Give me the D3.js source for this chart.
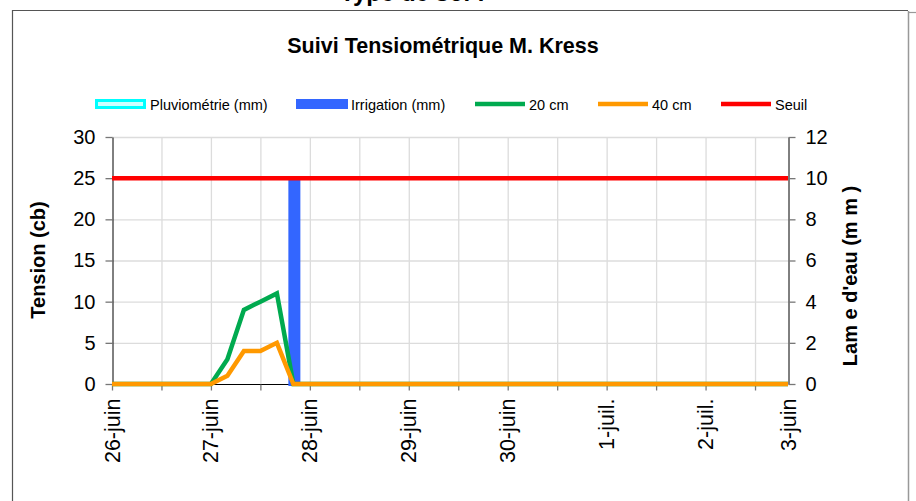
<!DOCTYPE html>
<html>
<head>
<meta charset="utf-8">
<script src="https://cdn.jsdelivr.net/npm/d3@7"></script>
<style>
  body { margin: 0; background: #fff; }
  svg { display: block; font-family: "Liberation Sans", Arial, sans-serif; }
</style>
</head>
<body>
<svg id="chart" width="916" height="501"></svg>
<script>
"use strict";

// readings (every 4 h around the rise), in cb
const times = ["2009-06-26 00:00", "2009-06-27 00:00", "2009-06-27 04:00", "2009-06-27 08:00",
               "2009-06-27 12:00", "2009-06-27 16:00", "2009-06-27 20:00", "2009-07-02 20:00"];
const tension20 = [0, 0, 3, 9, 10, 11, 0, 0];
const tension40 = [0, 0, 1, 4, 4, 5, 0, 0];
const seuil = [25, 25, 25, 25, 25, 25, 25, 25];

// water supplied, in mm (right axis)
const waterTimes = ["2009-06-27 20:00"];
const pluviometrie = [0];
const irrigation = [10];

const xTickDates = ["2009-06-26 00:00", "2009-06-27 00:00", "2009-06-28 00:00", "2009-06-29 00:00",
                    "2009-06-30 00:00", "2009-07-01 00:00", "2009-07-02 00:00", "2009-07-02 20:00"];
const xTickLabels = ["26-juin", "27-juin", "28-juin", "29-juin", "30-juin", "1-juil.", "2-juil.", "3-juin"];
const leftTicks = [0, 5, 10, 15, 20, 25, 30];
const rightTicks = [0, 2, 4, 6, 8, 10, 12];

const parse = d3.timeParse("%Y-%m-%d %H:%M");
const svg = d3.select("#chart");

const plotL = 112, plotR = 788, plotT = 137, plotB = 384;

const x = d3.scaleTime()
   .domain([parse(times[0]), parse(times[times.length - 1])])
   .range([plotL, plotR]);
const y = d3.scaleLinear().domain([0, 30]).range([plotB, plotT]);
const y2 = d3.scaleLinear().domain([0, 12]).range([plotB, plotT]);

// outer frame
svg.append("path").attr("d", "M12.5,501 V10.5 H908").attr("fill", "none").attr("stroke", "#555").attr("stroke-width", 1.2);
svg.append("line").attr("x1", 908.5).attr("x2", 908.5).attr("y1", 11).attr("y2", 501).attr("stroke", "#999").attr("stroke-width", 1.5);
svg.append("line").attr("x1", 909).attr("x2", 916).attr("y1", 12.5).attr("y2", 12.5).attr("stroke", "#999").attr("stroke-width", 1.2);

// cut-off heading at the very top
svg.append("text").attr("x", 340).attr("y", 1).attr("font-size", 24).attr("font-weight", "bold").text("Type de sol :");

svg.append("text")
   .attr("x", 443).attr("y", 53)
   .attr("text-anchor", "middle")
   .attr("font-size", 21.5).attr("font-weight", "bold")
   .text("Suivi Tensiométrique M. Kress");

// grid
const halfDays = d3.timeHour.every(12).range(x.domain()[0], d3.timeMinute.offset(x.domain()[1], 1));
svg.append("g").selectAll("line").data(halfDays.slice(1)).join("line")
   .attr("x1", d => x(d) + 0.5).attr("x2", d => x(d) + 0.5)
   .attr("y1", plotT).attr("y2", plotB)
   .attr("stroke", "#dcdcdc").attr("stroke-width", 1.3);
svg.append("g").selectAll("line").data(leftTicks.slice(1)).join("line")
   .attr("x1", plotL).attr("x2", plotR)
   .attr("y1", d => y(d) + 0.5).attr("y2", d => y(d) + 0.5)
   .attr("stroke", "#dcdcdc").attr("stroke-width", 1.3);

// axes
const axisStyle = g => {
   g.select(".domain").attr("stroke", "#000");
   g.selectAll(".tick line").attr("stroke", "#777").attr("stroke-width", 1.3);
   g.selectAll(".tick text").attr("fill", "#000");
};

svg.append("g")
   .attr("transform", `translate(${plotL + 0.5},0)`)
   .call(d3.axisLeft(y).tickValues(leftTicks).tickSize(7).tickSizeOuter(0).tickPadding(10))
   .call(axisStyle)
   .selectAll(".tick text").attr("font-size", 20).attr("font-family", "Liberation Sans, Arial, sans-serif");

svg.append("g")
   .attr("transform", `translate(${plotR + 0.5},0)`)
   .call(d3.axisRight(y2).tickValues(rightTicks).tickSize(7).tickSizeOuter(0).tickPadding(10))
   .call(axisStyle)
   .selectAll(".tick text").attr("font-size", 20).attr("font-family", "Liberation Sans, Arial, sans-serif");

const xg = svg.append("g").attr("transform", `translate(0,${plotB + 0.5})`);
xg.append("line").attr("x1", plotL).attr("x2", plotR).attr("stroke", "#000");
xg.selectAll("line.tk").data(halfDays).join("line").attr("class", "tk")
   .attr("x1", d => x(d) + 0.5).attr("x2", d => x(d) + 0.5)
   .attr("y1", 0).attr("y2", 6)
   .attr("stroke", "#777").attr("stroke-width", 1.3);
xg.selectAll("text").data(xTickDates).join("text")
   .attr("transform", d => `translate(${x(parse(d)) + 7.5},14) rotate(-90)`)
   .attr("text-anchor", "end")
   .attr("font-size", 21.5)
   .text((d, i) => xTickLabels[i]);

// axis titles
svg.append("text")
   .attr("transform", "translate(45,260) rotate(-90)")
   .attr("text-anchor", "middle")
   .attr("font-size", 20).attr("font-weight", "bold")
   .text("Tension (cb)");
svg.append("text")
   .attr("transform", "translate(857,276) rotate(-90)")
   .attr("text-anchor", "middle")
   .attr("font-size", 20).attr("font-weight", "bold")
   .text("Lam e d'eau (m m )");

// bars on the right axis
const barW = 12;
svg.append("g").selectAll("rect").data(irrigation).join("rect")
   .attr("x", (d, i) => x(parse(waterTimes[i])) + 1 - barW / 2)
   .attr("y", d => y2(d) - 2)
   .attr("width", barW)
   .attr("height", d => y2(0) - y2(d) + 4)
   .attr("fill", "#3366ff");
svg.append("g").selectAll("rect").data(pluviometrie).join("rect")
   .attr("x", (d, i) => x(parse(waterTimes[i])) + 1 - barW / 2)
   .attr("y", d => y2(d))
   .attr("width", barW)
   .attr("height", d => y2(0) - y2(d))
   .attr("fill", "#ccffff").attr("stroke", "#00ffff");

// lines
const line = d3.line().x((d, i) => x(parse(times[i]))).y(d => y(d));
[[tension20, "#00aa4f"], [tension40, "#ff9900"], [seuil, "#ff0000"]].forEach(([vals, col]) => {
   svg.append("path")
      .datum(vals)
      .attr("d", line)
      .attr("fill", "none")
      .attr("stroke", col)
      .attr("stroke-width", 4.5)
      .attr("stroke-linejoin", "miter");
});

// legend
const legendItems = [
   { name: "Pluviométrie (mm)", x: 95, type: "pluvio" },
   { name: "Irrigation (mm)", x: 296, type: "bar", color: "#3366ff" },
   { name: "20 cm", x: 475, type: "line", color: "#00aa4f" },
   { name: "40 cm", x: 598, type: "line", color: "#ff9900" },
   { name: "Seuil", x: 721, type: "line", color: "#ff0000" }
];
const lg = svg.append("g").attr("transform", "translate(0,104)");
legendItems.forEach(it => {
   if (it.type === "pluvio") {
      lg.append("rect").attr("x", it.x + 1.5).attr("y", -3.5).attr("width", 48).attr("height", 7)
         .attr("fill", "#ccffff").attr("stroke", "#00ffff").attr("stroke-width", 3);
   } else if (it.type === "bar") {
      lg.append("rect").attr("x", it.x).attr("y", -5).attr("width", 52).attr("height", 10).attr("fill", it.color);
   } else {
      lg.append("line").attr("x1", it.x).attr("x2", it.x + 50).attr("stroke", it.color).attr("stroke-width", 4.5);
   }
   lg.append("text").attr("x", it.x + (it.type === "line" ? 54 : 55)).attr("y", 5.5)
      .attr("font-size", 14.5).text(it.name);
});
</script>
</body>
</html>
